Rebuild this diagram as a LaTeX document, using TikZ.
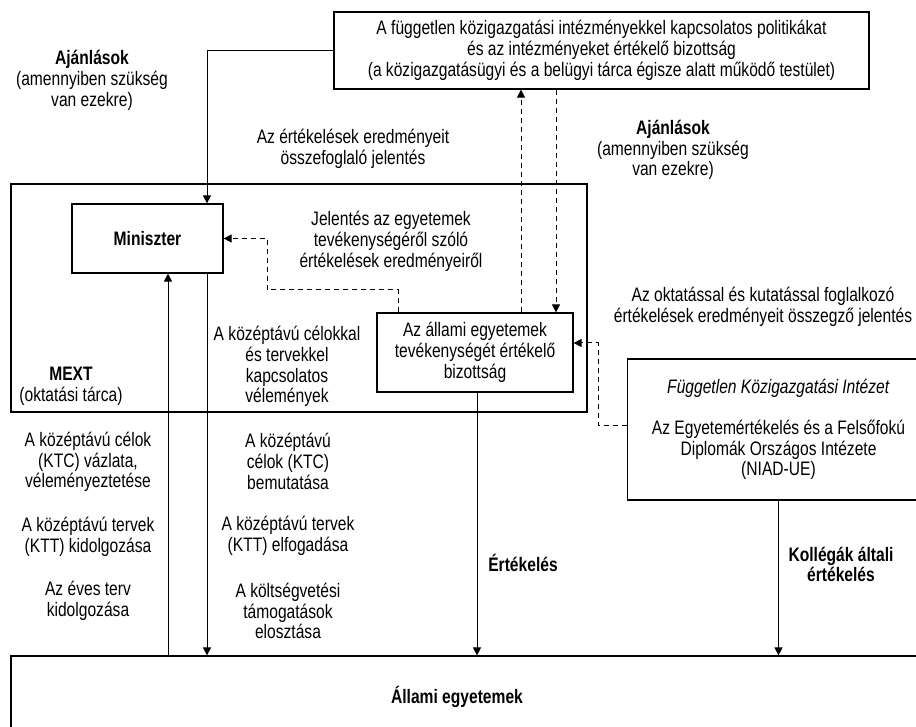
\documentclass[tikz,border=0pt]{standalone}
\usepackage{fontspec}
\setmainfont{Liberation Sans}[FakeStretch=0.8]
\usetikzlibrary{arrows.meta}

\begin{document}
\begin{tikzpicture}[x=1pt,y=-1pt,
    every node/.style={font=\fontsize{19.5}{20.7}\selectfont, align=center, inner sep=0pt},
    box/.style={draw, line width=1.2pt},
    arr/.style={-{Triangle[length=8pt,width=8pt]}, line width=1pt},
    darr/.style={arr, dash pattern=on 5pt off 4pt}]
  \useasboundingbox (0,0) rectangle (916,727);
  \clip (0,0) rectangle (916,727);

  % boxes
  \node[box, minimum width=535pt, minimum height=77pt] (comm) at (601.5,50.5)
    {A független közigazgatási intézményekkel kapcsolatos politikákat\\
     és az intézményeket értékelő bizottság\\
     (a közigazgatásügyi és a belügyi tárca égisze alatt működő testület)};
  \node[box, minimum width=576pt, minimum height=228pt] (mext) at (299,298) {};
  \node[box, minimum width=151pt, minimum height=69pt] (minister) at (147.5,238.5) {\textbf{Miniszter}};
  \node[box, minimum width=196pt, minimum height=79pt] (evalcomm) at (475,352.5)
    {Az állami egyetemek\\tevékenységét értékelő\\bizottság};
  \node[box, minimum width=302pt, minimum height=141pt] (niad) at (778.5,429.5)
    {\textit{Független Közigazgatási Intézet}\\[20.3pt]
     Az Egyetemértékelés és a Felsőfokú\\Diplomák Országos Intézete\\(NIAD-UE)};
  \node[box, minimum width=929pt, minimum height=84pt] (univ) at (475.5,698) {};
  \node (univlabel) at (457,697) {\textbf{Állami egyetemek}};
  \node (mextlabel) at (71,386) {\textbf{MEXT}\\(oktatási tárca)};

  % labels
  \node (rec1) at (92,80.5) {\textbf{Ajánlások}\\(amennyiben szükség\\van ezekre)};
  \node (rec2) at (673,150) {\textbf{Ajánlások}\\(amennyiben szükség\\van ezekre)};
  \node (summary) at (353,148.5) {Az értékelések eredményeit\\összefoglaló jelentés};
  \node (report) at (391,241.5) {Jelentés az egyetemek\\tevékenységéről szóló\\értékelések eredményeiről};
  \node (opinions) at (287,366.5) {A középtávú célokkal\\és tervekkel\\kapcsolatos\\vélemények};
  \node (oksum) at (763,307) {Az oktatással és kutatással foglalkozó\\értékelések eredményeit összegző jelentés};
  \node (ktcdraft) at (88,462) {A középtávú célok\\(KTC) vázlata,\\véleményeztetése};
  \node (kttdraft) at (88,537) {A középtávú tervek\\(KTT) kidolgozása};
  \node (annual) at (88,600.5) {Az éves terv\\kidolgozása};
  \node (ktcshow) at (288,461.5) {A középtávú\\célok (KTC)\\bemutatása};
  \node (kttok) at (288,536) {A középtávú tervek\\(KTT) elfogadása};
  \node (budget) at (288,611) {A költségvetési\\támogatások\\elosztása};
  \node (evallabel) at (523,563) {\textbf{Értékelés}};
  \node (peerlabel) at (841,564.5) {\textbf{Kollégák általi}\\\textbf{értékelés}};

  % connectors
  \coordinate (bend1) at (267,290);
  \coordinate (bend2) at (598,343);
  \draw[arr] (comm.west) -| ([xshift=59.5pt]minister.north);
  \draw[darr] ([xshift=46pt]evalcomm.north) -- ([xshift=46pt]evalcomm.north |- comm.south);
  \draw[darr] ([xshift=81pt]evalcomm.north |- comm.south) -- ([xshift=81pt]evalcomm.north);
  \draw[darr] ([xshift=-77pt]evalcomm.north) |- (bend1) |- (minister.east);
  \draw[darr] ([yshift=4.5pt]niad.west) -| (bend2) -- (bend2 -| evalcomm.east);
  \draw[arr] ([xshift=20.5pt]minister.south |- univ.north) -- ([xshift=20.5pt]minister.south);
  \draw[arr] ([xshift=59.5pt]minister.south) -- ([xshift=59.5pt]minister.south |- univ.north);
  \draw[arr] ([xshift=2pt]evalcomm.south) -- ([xshift=2pt]evalcomm.south |- univ.north);
  \draw[arr] (niad.south) -- (niad.south |- univ.north);
\end{tikzpicture}
\end{document}
